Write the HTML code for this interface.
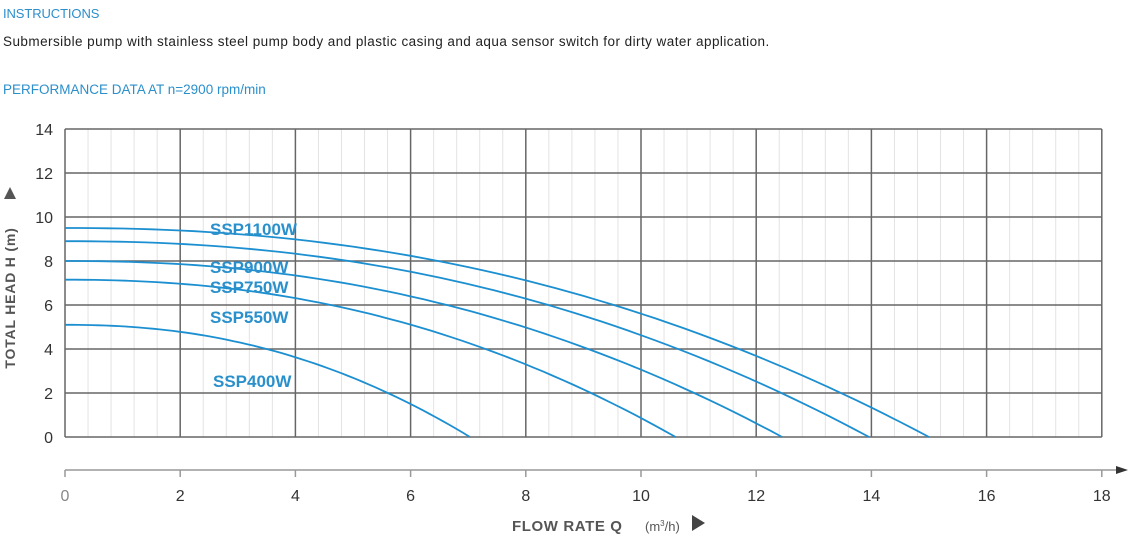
<!DOCTYPE html>
<html><head><meta charset="utf-8"><style>
body{margin:0;width:1130px;height:552px;background:#fff;font-family:"Liberation Sans",sans-serif;overflow:hidden}
.t{position:absolute;white-space:nowrap}
</style></head><body>
<div class="t" style="left:3px;top:6px;font-size:13px;color:#2b8fcb;letter-spacing:-0.1px">INSTRUCTIONS</div>
<div class="t" style="left:3px;top:34px;font-size:13.5px;color:#222;letter-spacing:0.45px">Submersible pump with stainless steel pump body and plastic casing and aqua sensor switch for dirty water application.</div>
<div class="t" style="left:3px;top:82px;font-size:13.5px;color:#2b8fcb;letter-spacing:0px">PERFORMANCE DATA AT n=2900 rpm/min</div>
<svg id="s" width="1130" height="552" style="position:absolute;left:0;top:0" font-family="Liberation Sans, sans-serif"></svg>
<script>
var s=document.getElementById('s'),h='';
var X=function(q){return 65+q*57.6},Y=function(v){return 437-v*22};
for(var i=1;i<45;i++){if(i%5)h+='<line x1="'+X(i*0.4)+'" x2="'+X(i*0.4)+'" y1="129" y2="437" stroke="#e3e3e3" stroke-width="1"/>';}
for(var i=0;i<=9;i++)h+='<line x1="'+X(i*2)+'" x2="'+X(i*2)+'" y1="129" y2="437" stroke="#666" stroke-width="1.5"/>';
for(var j=0;j<=7;j++)h+='<line x1="65" x2="'+X(18)+'" y1="'+Y(j*2)+'" y2="'+Y(j*2)+'" stroke="#666" stroke-width="1.5"/>';
for(var j=0;j<=7;j++)h+='<text x="53" y="'+(Y(j*2)+6)+'" font-size="16" fill="#333" text-anchor="end">'+(j*2)+'</text>';
h+='<line x1="65" x2="1118" y1="470" y2="470" stroke="#999" stroke-width="1.5"/><polygon points="1116,466 1128,470 1116,474" fill="#333"/>';
for(var i=0;i<=9;i++){h+='<line x1="'+X(i*2)+'" x2="'+X(i*2)+'" y1="470" y2="477" stroke="#999" stroke-width="1.5"/>';h+='<text x="'+X(i*2)+'" y="501" font-size="16" fill="'+(i?'#333':'#888')+'" text-anchor="middle">'+(i*2)+'</text>';}
var c=[[9.5,15.0],[8.9,13.96],[8.0,12.45],[7.15,10.6],[5.1,7.03]];
c.forEach(function(a){var d='';for(var k=0;k<=60;k++){var q=a[1]*k/60,v=a[0]*(1-Math.pow(q/a[1],2.2));d+=(k?'L':'M')+X(q).toFixed(1)+','+Y(v).toFixed(1);}h+='<path d="'+d+'" fill="none" stroke="#1c8fd0" stroke-width="1.8"/>';});
[['SSP1100W',210,235],['SSP900W',210,273],['SSP750W',210,293],['SSP550W',210,323],['SSP400W',213,387]].forEach(function(l){h+='<text x="'+l[1]+'" y="'+l[2]+'" font-size="17" font-weight="bold" fill="#2a90cc">'+l[0]+'</text>';});
h+='<text transform="translate(15,298) rotate(-90)" font-size="14" font-weight="bold" fill="#555" text-anchor="middle" letter-spacing="0.8">TOTAL HEAD H (m)</text>';
h+='<polygon points="4,199 10,187 16,199" fill="#555"/>';
h+='<text x="512" y="531" font-size="15" font-weight="bold" fill="#555" letter-spacing="0.6">FLOW RATE Q</text><text x="645" y="531" font-size="13" fill="#555">(m<tspan font-size="8" dy="-5">3</tspan><tspan dy="5">/h)</tspan></text><polygon points="692,515 705,523 692,531" fill="#444"/>';
s.innerHTML=h;
</script>
</body></html>
